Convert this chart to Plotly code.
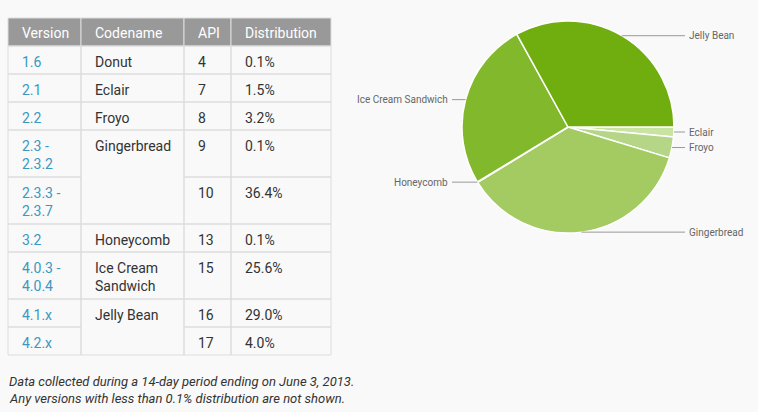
import numpy as np
import plotly.graph_objects as go

# ---------------- data ----------------
headers = ["Version", "Codename", "API", "Distribution"]
versions = ["1.6", "2.1", "2.2", "2.3 -<br>2.3.2", "2.3.3 -<br>2.3.7", "3.2",
            "4.0.3 -<br>4.0.4", "4.1.x", "4.2.x"]
codenames = ["Donut", "Eclair", "Froyo", "Gingerbread", "Gingerbread", "Honeycomb",
             "Ice Cream<br>Sandwich", "Jelly Bean", "Jelly Bean"]
apis = [4, 7, 8, 9, 10, 13, 15, 16, 17]
distribution = [0.1, 1.5, 3.2, 0.1, 36.4, 0.1, 25.6, 29.0, 4.0]

pie_labels = ["Eclair", "Froyo", "Gingerbread", "Honeycomb", "Ice Cream Sandwich", "Jelly Bean"]
pie_colors = ["#c9e3a3", "#b5d686", "#a4cb62", "#93c13f", "#82b82b", "#70ad0e"]

footer_lines = ["Data collected during a 14-day period ending on June 3, 2013.",
                "Any versions with less than 0.1% distribution are not shown."]

# ---------------- layout constants ----------------
W, H = 758, 412
BG = "#f9f9f9"
BORDER = "#dddddd"
HEAD_BG = "#999999"
LINK = "#3a98c2"
TXT = "#333333"
FONT = "Roboto"
col_x = [8, 81, 184, 231, 331]
table_top = 18
head_h = 28
line_h1, line_h2 = 28, 47

pie_values = [sum(d for c, d in zip(codenames, distribution)
                  if c.replace("<br>", " ") == lab) for lab in pie_labels]

shapes, annotations = [], []

def rect(x0, y0, x1, y1, fill=None, line=BORDER):
    shapes.append(dict(type="rect", xref="x", yref="y", x0=x0, y0=y0, x1=x1, y1=y1,
                       line=dict(color=line, width=1),
                       fillcolor=fill if fill else "rgba(0,0,0,0)", layer="below"))

def text(x, y, s, color=TXT, size=14, anchor="left", yanchor="top", italic=False):
    annotations.append(dict(xref="x", yref="y", x=x, y=y, text=s, showarrow=False,
                            xanchor=anchor, yanchor=yanchor, align=anchor,
                            font=dict(family=FONT, size=size, color=color,
                                      style="italic" if italic else "normal")))

# header
for i, h in enumerate(headers):
    rect(col_x[i], table_top, col_x[i + 1], table_top + head_h, fill=HEAD_BG)
    text(col_x[i] + 12, table_top + 15, h, color="white", yanchor="middle")

# rows
rows = list(zip(versions, codenames, apis, distribution))
heights = [line_h2 if ("<br>" in v or "<br>" in c) else line_h1 for v, c, a, d in rows]
tops = [table_top + head_h + sum(heights[:k]) for k in range(len(rows))]
for k, (v, c, a, d) in enumerate(rows):
    y0, y1 = tops[k], tops[k] + heights[k]
    for ci, val, col in [(0, v, LINK), (2, str(a), TXT), (3, f"{d:.1f}%", TXT)]:
        rect(col_x[ci], y0, col_x[ci + 1], y1)
        text(col_x[ci] + 12, y0 + 6, val, color=col)
    if k == 0 or codenames[k - 1] != c:
        span = k
        while span + 1 < len(rows) and codenames[span + 1] == c:
            span += 1
        rect(col_x[1], y0, col_x[2], tops[span] + heights[span])
        text(col_x[1] + 12, y0 + 6, c)

# footer
for i, s in enumerate(footer_lines):
    text(7, 381 + 17 * i, s, size=13, yanchor="middle", italic=True)

# ---------------- pie ----------------
cx, cy, r = 568, 127, 106
fig = go.Figure()
fig.add_trace(go.Pie(labels=pie_labels, values=pie_values, sort=False,
                     direction="clockwise", rotation=90,
                     marker=dict(colors=pie_colors, line=dict(color="white", width=1.5)),
                     textinfo="none", hoverinfo="label+percent", showlegend=False,
                     domain=dict(x=[(cx - r) / W, (cx + r) / W],
                                 y=[1 - (cy + r) / H, 1 - (cy - r) / H])))

vals = np.array(pie_values)
cum = np.cumsum(vals) / vals.sum()
mids = cum - vals / vals.sum() / 2
for lab, f in zip(pie_labels, mids):
    th = 2 * np.pi * f
    ex, ey = cx + r * np.cos(th), cy + r * np.sin(th)
    if np.cos(th) >= 0:
        endx, tx, anc = 685, 687, "left"
    else:
        endx, tx, anc = 452, 450, "right"
    shapes.append(dict(type="line", xref="x", yref="y", x0=ex, y0=ey, x1=endx, y1=ey,
                       line=dict(color="#999999", width=1)))
    annotations.append(dict(xref="x", yref="y", x=tx, y=ey, text=lab, showarrow=False,
                            xanchor=anc, yanchor="middle",
                            font=dict(family=FONT, size=10, color="#666666")))

fig.update_layout(
    width=W, height=H, margin=dict(l=0, r=0, t=0, b=0),
    paper_bgcolor=BG, plot_bgcolor=BG,
    xaxis=dict(range=[0, W], visible=False, fixedrange=True),
    yaxis=dict(range=[H, 0], visible=False, fixedrange=True),
    shapes=shapes, annotations=annotations,
)
fig.write_html("out.html", config={"displayModeBar": False},
               post_script="document.body.style.margin='0';document.body.style.background='#f9f9f9';")
